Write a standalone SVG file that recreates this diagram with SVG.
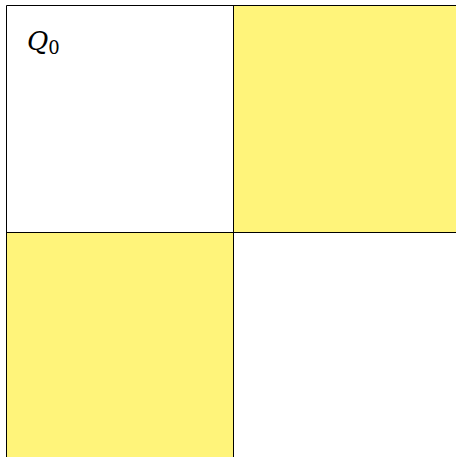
<svg xmlns="http://www.w3.org/2000/svg" width="456" height="457" viewBox="0 0 456 457">
<style>
.y{fill:#fff47a}
.ln{stroke:#000;stroke-width:1;fill:none}
</style>
<rect width="456" height="457" fill="#fff"/>
<g id="q0"><rect x="6.5" y="5.5" width="227" height="227" fill="#fff"/></g>
<g id="q1"><rect class="y" x="233.5" y="5.5" width="230" height="227"/></g>
<g id="q2"><rect class="y" x="6.5" y="232.5" width="227" height="230"/></g>
<g id="q3"><rect x="233.5" y="232.5" width="230" height="230" fill="#fff"/></g>
<g id="lines">
<path class="ln" d="M6.5 5.5H456M6.5 5.5V457M233.5 5.5V457M6.5 232.5H456"/>
</g>
<text x="27" y="50" font-family="DejaVu Serif, serif" font-size="26" font-style="italic">Q<tspan font-style="normal" font-size="18" dy="4">0</tspan></text>
</svg>
